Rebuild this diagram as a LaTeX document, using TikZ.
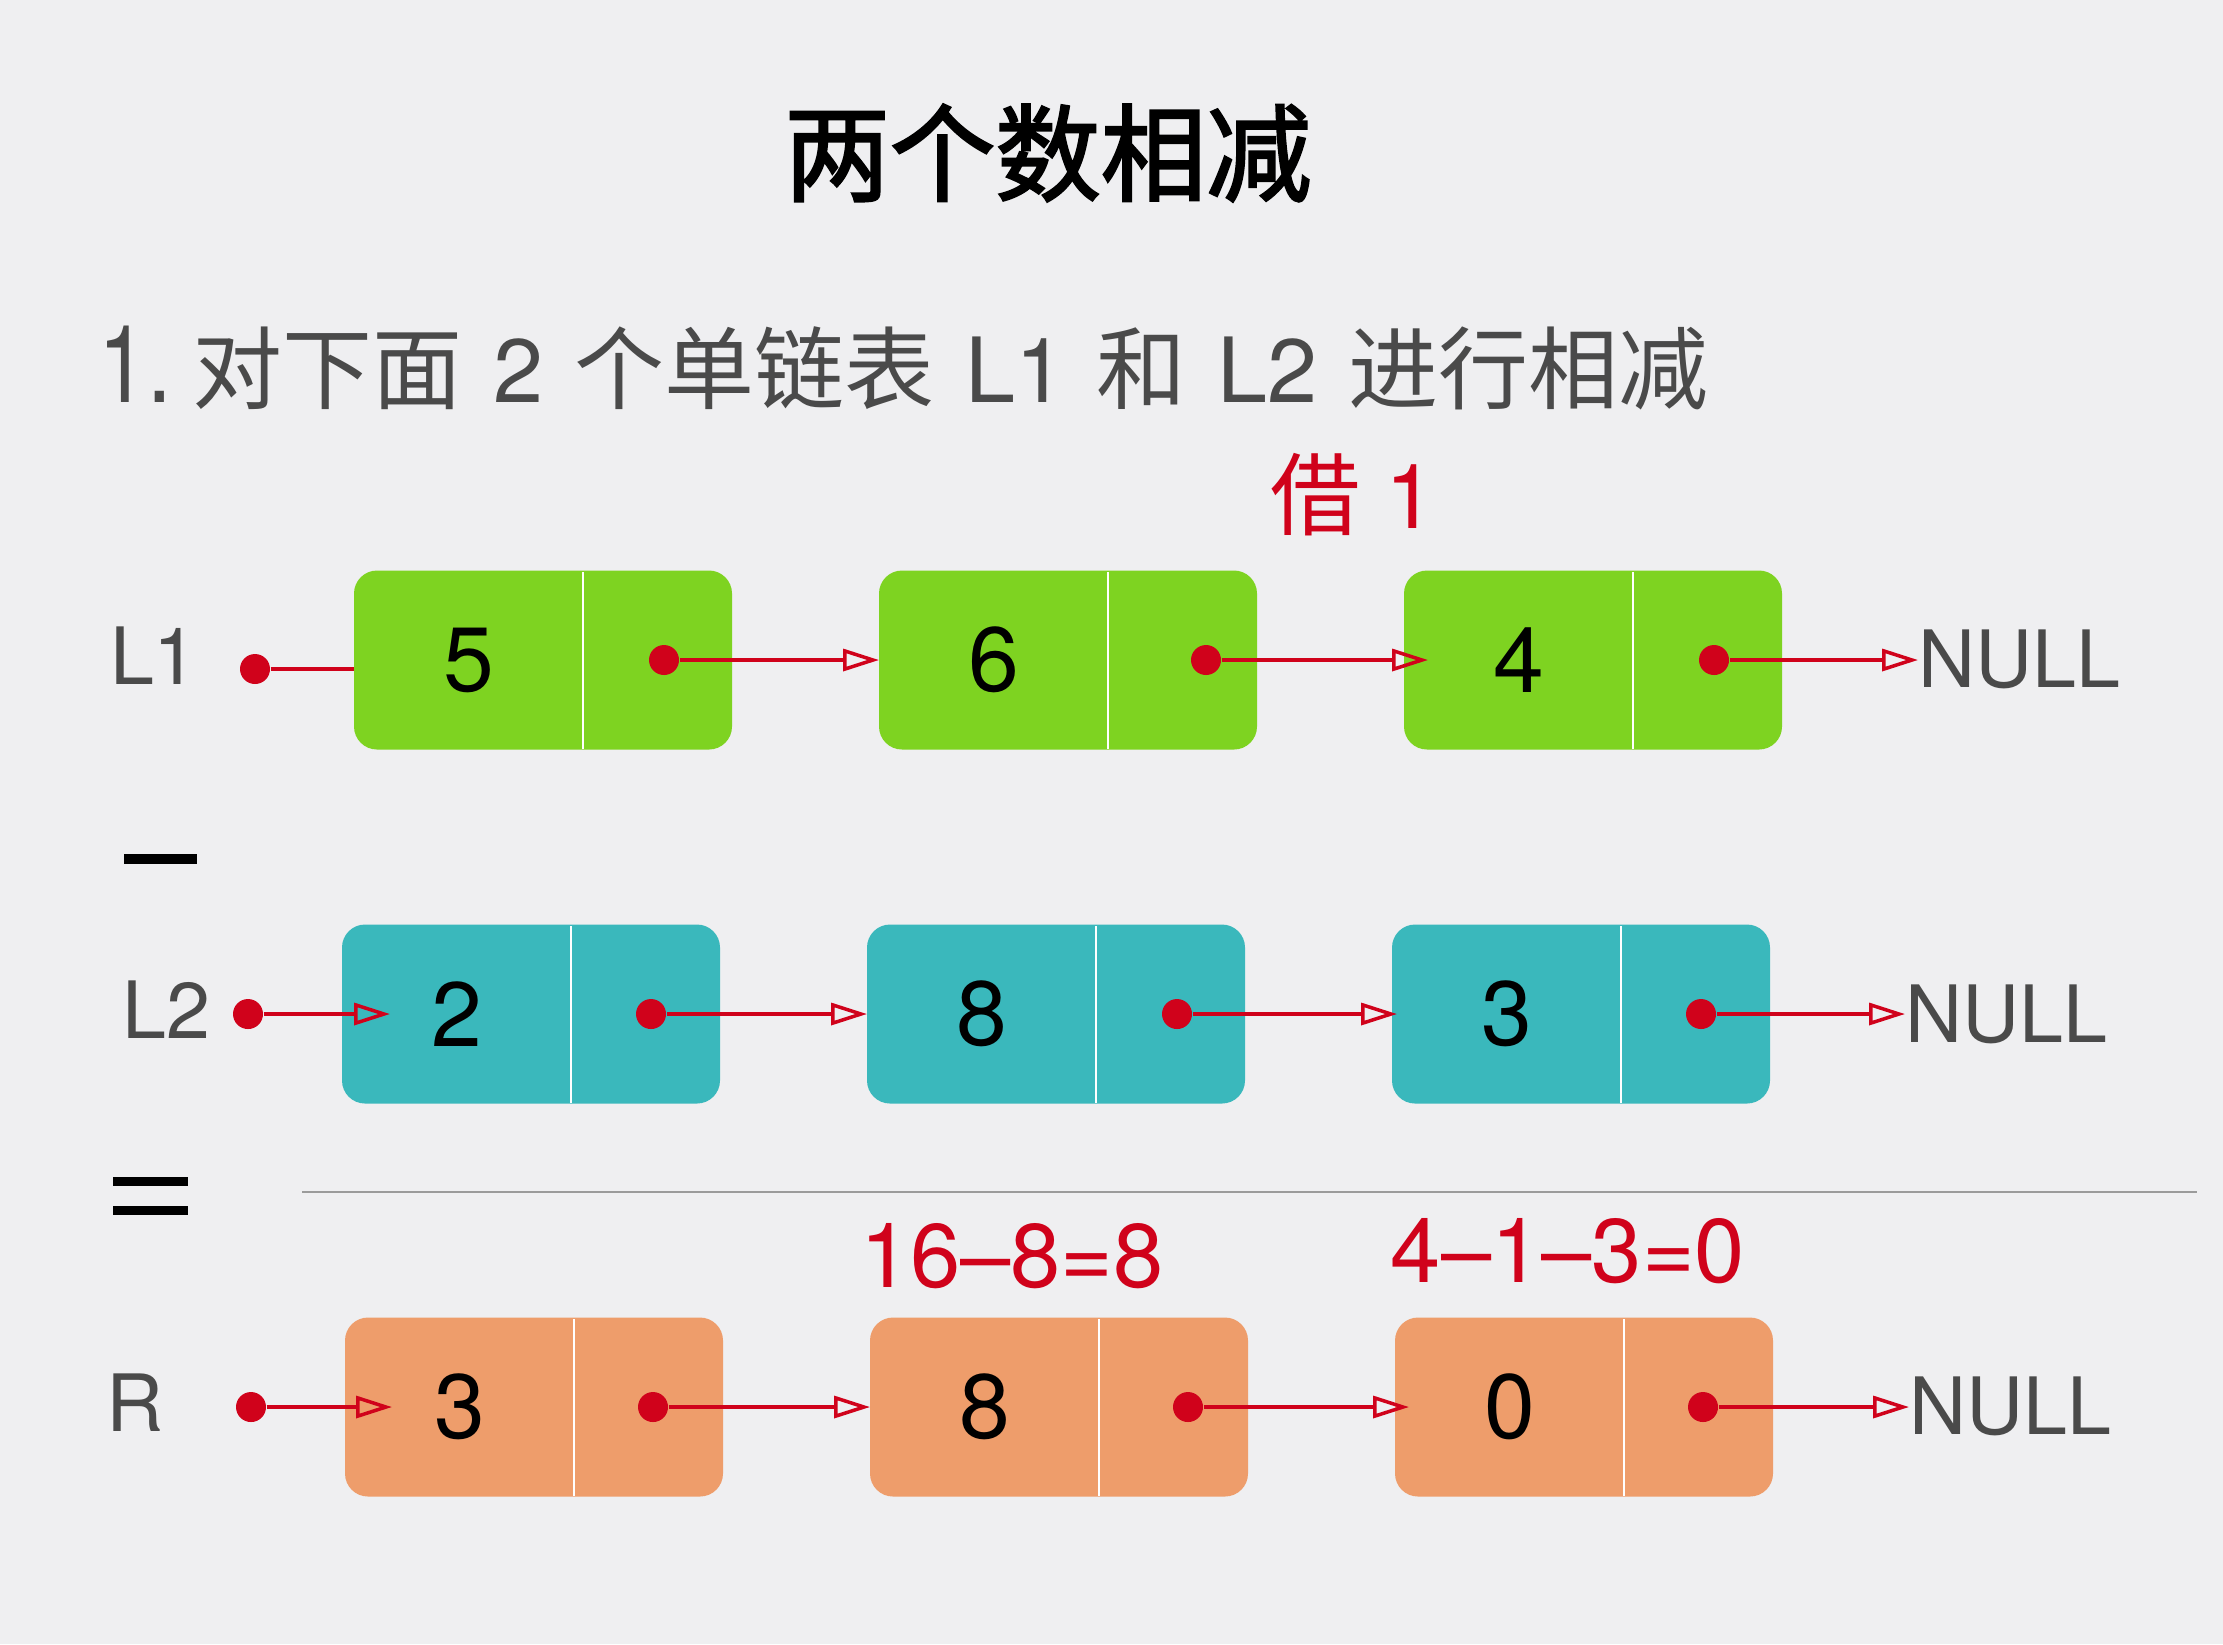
\documentclass[tikz,border=0pt]{standalone}
\usepackage{fontspec}
\setmainfont{TeX Gyre Heros}
\newfontfamily\cjk{Noto Sans CJK SC}
\newfontfamily\cjktitle[FakeBold=2.2]{Noto Sans CJK SC}
\usepackage{xcolor}
\usetikzlibrary{arrows.meta,positioning}
\definecolor{bggray}{RGB}{239,239,241}
\definecolor{lgreen}{RGB}{126,211,33}
\definecolor{lteal}{RGB}{58,184,188}
\definecolor{lorange}{RGB}{238,157,107}
\definecolor{lred}{RGB}{208,2,27}
\definecolor{txtgray}{RGB}{74,74,74}
\definecolor{rulegray}{RGB}{155,155,155}

\begin{document}
\begin{tikzpicture}[node distance=1.47cm]
    \tikzstyle{cell}=[rounded corners=2.3mm, minimum width=3.78cm, minimum height=1.79cm, inner sep=0pt, outer sep=0pt]
    \tikzstyle{cellval}=[inner sep=0pt, font=\fontsize{26}{30}\selectfont]
    \tikzstyle{cellsep}=[draw=white, line width=0.8pt]
    \tikzstyle{listname}=[inner sep=0pt, text=txtgray, font=\fontsize{22.5}{27}\selectfont]
    \tikzstyle{ptrdot}=[circle, fill=lred, inner sep=0pt, minimum size=3mm]
    \tikzstyle{ptr}=[draw=lred, line width=1pt, -{Triangle[open, length=3.6mm, width=2.2mm]}]
    \tikzstyle{lead}=[draw=lred, line width=1pt]
    \tikzstyle{note}=[inner sep=0pt, text=lred, font=\fontsize{25.7}{30}\selectfont]
    % Canvas
    \fill[bggray] (0,0) rectangle (22.23,-16.44);
    \useasboundingbox (0,0) rectangle (22.23,-16.44);
    % Title and task
    \node[inner sep=0pt, font=\fontsize{30}{36}\cjktitle] (title) at (10.48,-1.53) {两个数相减};
    \node[anchor=base west, inner sep=0pt, text=txtgray, font=\fontsize{25.6}{30}\selectfont] (task) at (0.98,-4.02)
        {\spaceskip=0.31cm\relax{\fontsize{30.7}{36}\selectfont\addfontfeatures{FakeStretch=0.82}1.}\hspace{0.2cm}{\cjk 对下面} 2 {\cjk 个单链表} L1 {\cjk 和} L2 {\cjk 进行相减}};
    \node[note, anchor=base west, font=\fontsize{25.6}{30}\selectfont] (borrow) at (12.70,-5.28) {{\cjk 借} 1};
    % L1 row
    \node[listname] (l1) at (1.54,-6.56) {L1};
    \node[cell, fill=lgreen] (a1) at (5.43,-6.60) {};
    \node[cell, fill=lgreen, right=of a1] (a2) {};
    \node[cell, fill=lgreen, right=of a2] (a3) {};
    \node[listname, anchor=west] (n1) at (19.18,-6.59) {NULL};
    % L2 row
    \node[listname] (l2) at (1.66,-10.10) {L2};
    \node[cell, fill=lteal] (b1) at (5.31,-10.14) {};
    \node[cell, fill=lteal, right=of b1] (b2) {};
    \node[cell, fill=lteal, right=of b2] (b3) {};
    \node[listname, anchor=west] (n2) at (19.05,-10.14) {NULL};
    % Result row
    \node[listname] (r) at (1.35,-14.03) {R};
    \node[cell, fill=lorange] (c1) at (5.34,-14.07) {};
    \node[cell, fill=lorange, right=of c1] (c2) {};
    \node[cell, fill=lorange, right=of c2] (c3) {};
    \node[listname, anchor=west] (n3) at (19.09,-14.06) {NULL};
    % Values, dividers and next pointers
    \foreach \c/\v/\d in {a1/5/6.8,a2/6/5.1,a3/4/6.8,b1/2/6.9,b2/8/6.8,b3/3/6.9,c1/3/7.0,c2/8/6.0,c3/0/7.0} {
        \draw[cellsep] ([xshift=22.9mm,yshift=0.1mm]\c.south west) -- ([xshift=22.9mm,yshift=-0.1mm]\c.north west);
        \node[cellval] at ([xshift=11.45mm]\c.west) {\v};
        \node[ptrdot] (\c-p) at ([xshift=-\d mm]\c.east) {};
    }
    % L1 links
    \node[ptrdot] (s1) at (2.55,-6.69) {};
    \draw[lead] (s1) -- (s1 -| a1.west);
    \draw[ptr] (a1-p) -- (a2.west);
    \draw[ptr] (a2-p) -- ([xshift=2.4mm]a3.west);
    \draw[ptr] (a3-p) -- (a3-p -| n1.west);
    % L2 links
    \node[ptrdot] (s2) at (2.48,-10.14) {};
    \draw[ptr] (s2) -- ([xshift=4.8mm]b1.west);
    \draw[ptr] (b1-p) -- (b2.west);
    \draw[ptr] (b2-p) -- ([xshift=0.5mm]b3.west);
    \draw[ptr] (b3-p) -- (b3-p -| n2.west);
    % R links
    \node[ptrdot] (s3) at (2.51,-14.07) {};
    \draw[ptr] (s3) -- ([xshift=4.7mm]c1.west);
    \draw[ptr] (c1-p) -- (c2.west);
    \draw[ptr] (c2-p) -- ([xshift=1.4mm]c3.west);
    \draw[ptr] (c3-p) -- (c3-p -| n3.west);
    % Minus, equals and result rule
    \fill (1.24,-8.54) rectangle (1.97,-8.64);
    \fill (1.13,-11.77) rectangle (1.88,-11.86);
    \fill (1.13,-12.06) rectangle (1.88,-12.15);
    \draw[rulegray, line width=0.8pt] (3.02,-11.92) -- (21.97,-11.92);
    % Digit sums
    \node[note, anchor=base] (sum2) at (10.12,-12.87) {16–8=8};
    \node[note, anchor=base] (sum3) at (15.68,-12.82) {4–1–3=0};
\end{tikzpicture}
\end{document}
